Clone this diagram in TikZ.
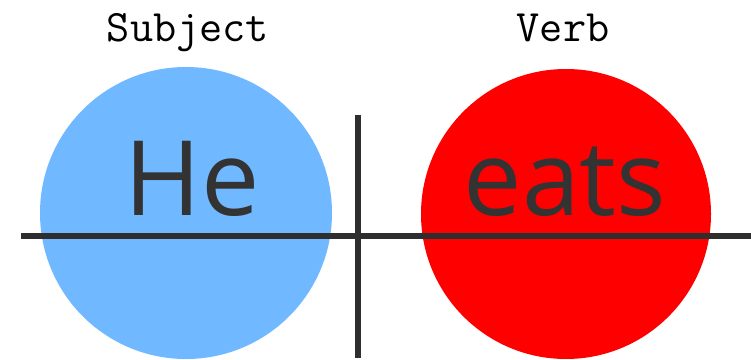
\documentclass[tikz,border=0pt]{standalone}
\usepackage{fontspec}
\newfontfamily\bigsans{Open Sans}
\definecolor{subjblue}{HTML}{70B8FF}
\definecolor{verbred}{HTML}{FF0000}
\definecolor{ink}{HTML}{333333}
\definecolor{rule}{HTML}{2E2E2E}
\tikzset{
  disc/.style={circle, inner sep=0pt, draw=none},
  word/.style={anchor=base, inner sep=0pt, text=ink, font=\bigsans\fontsize{104pt}{104pt}\selectfont},
  heading/.style={anchor=base, inner sep=0pt, text=black, font=\ttfamily\fontsize{45pt}{45pt}\selectfont},
  diagline/.style={draw=rule, line width=5.5pt}
}
\begin{document}
\begin{tikzpicture}[x=1pt,y=1pt]
\useasboundingbox (0,0) rectangle (751,359);
\node[disc, fill=subjblue, minimum size=292pt] (subjc) at (186,146) {};
\node[disc, fill=verbred, minimum size=290pt] (verbc) at (566,145) {};
\coordinate (hl) at (21,123);
\coordinate (hr) at (751,123);
\coordinate (vt) at (358,244);
\coordinate (vb) at (358,1);
\draw[diagline] (hl) -- (hr);
\draw[diagline] (vt) -- (vb);
\node[word] (he) at (192,144) {He};
\node[word] (eats) at (565,144) {eats};
\node[heading] (subj) at (188,317) {Subject};
\node[heading] (verb) at (563,317) {Verb};
\end{tikzpicture}
\end{document}
